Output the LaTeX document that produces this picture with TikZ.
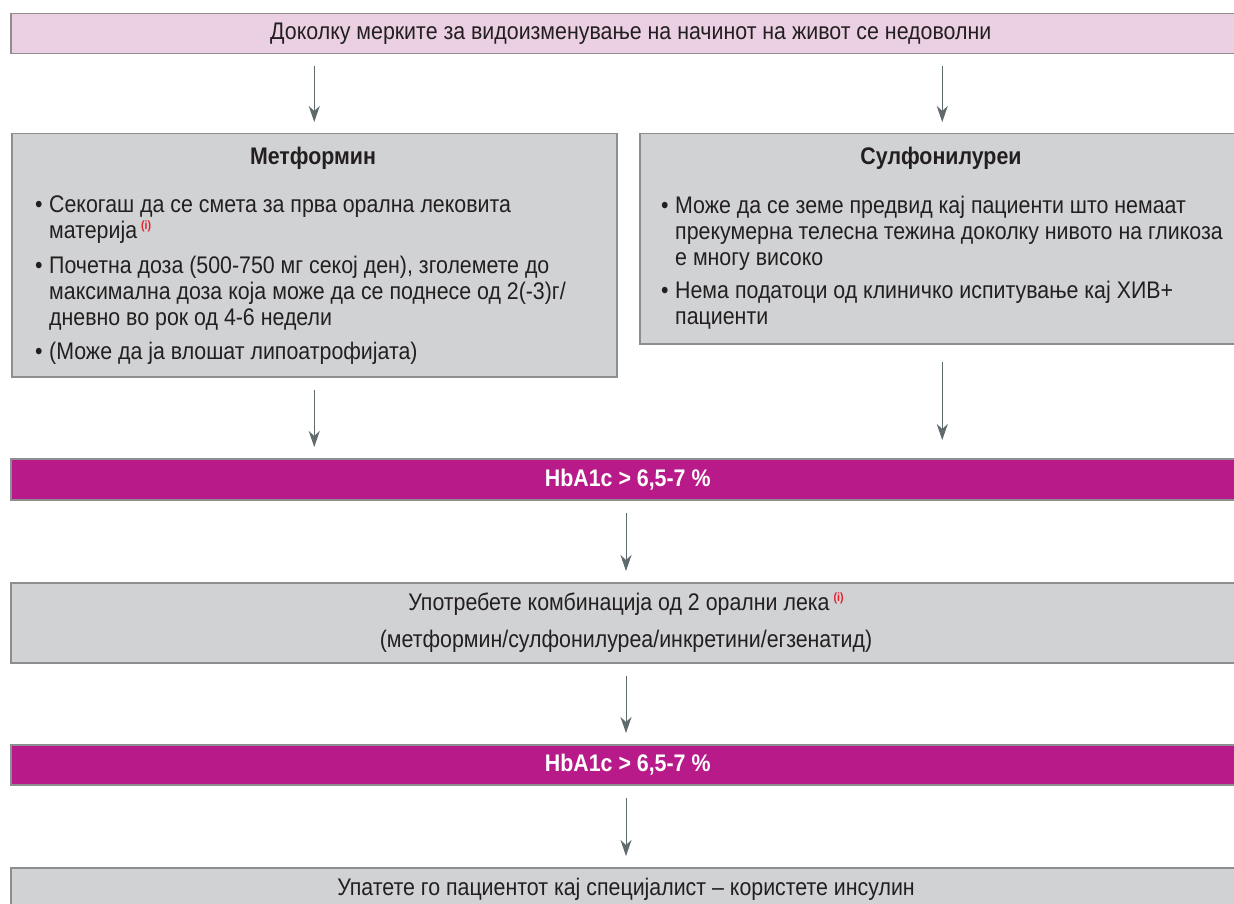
\documentclass[tikz,border=0pt]{standalone}
\usepackage{fontspec}
\setmainfont{Liberation Sans}[FakeStretch=0.89]
\usetikzlibrary{arrows.meta}

\definecolor{pinkfill}{HTML}{EBD0E4}
\definecolor{grayfill}{HTML}{D1D2D4}
\definecolor{boxline}{HTML}{8C8E90}
\definecolor{magbar}{HTML}{B81B89}
\definecolor{arrowc}{HTML}{5F6A6C}
\definecolor{supred}{HTML}{E3202B}
\definecolor{inkc}{HTML}{231F20}

% reference mark "(i)"
\newcommand\refmark{\,\raisebox{9pt}{\fontsize{12}{12}\selectfont\bfseries\color{supred}(i)}}
% bullet with hanging indent
\newcommand\bul{\makebox[14pt][l]{•}}
\newcommand\ind{\hspace*{14pt}}

\begin{document}
\begin{tikzpicture}[x=1pt,y=-1pt,
  panel/.style={draw=boxline, line width=1.5pt, inner sep=0pt, anchor=north west,
                font=\fontsize{24}{26}\selectfont, text=inkc},
  pinkpanel/.style={panel, fill=pinkfill},
  graypanel/.style={panel, fill=grayfill},
  hbpanel/.style={panel, fill=magbar, text=white, font=\fontsize{24}{26}\selectfont\bfseries},
  titletext/.style={font=\fontsize{24}{26}\selectfont\bfseries, text=inkc, inner sep=0pt},
  plaintext/.style={font=\fontsize{24}{26}\selectfont, text=inkc, inner sep=0pt},
  listtext/.style={font=\fontsize{24}{26}\selectfont, text=inkc, align=left, inner sep=0pt, anchor=north west},
  flowarrow/.style={draw=arrowc, line width=1pt, shorten <=12pt, shorten >=11pt,
                    -{Stealth[length=16pt, width=11pt, inset=5pt]}}
]
\clip (0,0) rectangle (1234,904);
\fill[white] (0,0) rectangle (1234,904);

% top condition
\node[pinkpanel, minimum width=1234pt, minimum height=40pt] (top) at (10,13)
  {\hspace*{6pt}Доколку мерките за видоизменување на начинот на живот се недоволни};

% first-line drugs
\node[graypanel, minimum width=605pt, minimum height=243pt] (met) at (11,133) {};
\node[titletext] (mettitle) at (313,158) {Метформин};
\node[listtext] (metlist) at (35,196) {%
  \bul Секогаш да се смета за прва орална лековита\\
  \ind материја\refmark\\[9pt]
  \bul Почетна доза (500-750 мг секој ден), зголемете до\\
  \ind максимална доза која може да се поднесе од 2(-3)г/\\
  \ind дневно во рок од 4-6 недели\\[8pt]
  \bul (Може да ја влошат липоатрофијата)};

\node[graypanel, minimum width=605pt, minimum height=210pt] (sul) at (639,133) {};
\node[titletext] (sultitle) at (941,158) {Сулфонилуреи};
\node[listtext] (sullist) at (661,196) {%
  \bul Може да се земе предвид кај пациенти што немаат\\
  \ind прекумерна телесна тежина доколку нивото на гликоза\\
  \ind е многу високо\\[7pt]
  \bul Нема податоци од клиничко испитување кај ХИВ+\\
  \ind пациенти};

% first HbA1c check
\node[hbpanel, minimum width=1234pt, minimum height=41pt] (hb1) at (10,458) {HbA1c > 6,5-7 \%};

% combination therapy
\node[graypanel, minimum width=1234pt, minimum height=80pt] (comb) at (10,582) {};
\node[plaintext] (comb1) at (626,604) {Употребете комбинација од 2 орални лека\refmark};
\node[plaintext] (comb2) at (626,641) {(метформин/сулфонилуреа/инкретини/егзенатид)};

% second HbA1c check
\node[hbpanel, minimum width=1234pt, minimum height=40pt] (hb2) at (10,744) {HbA1c > 6,5-7 \%};

% referral
\node[graypanel, minimum width=1234pt, minimum height=60pt] (ref) at (10,867) {};
\node[plaintext] (reftext) at (626,889) {Упатете го пациентот кај специјалист – користете инсулин};

% connectors
\draw[flowarrow] (top.south -| met.north) -- (met.north);
\draw[flowarrow] (top.south -| sul.north) -- (sul.north);
\draw[flowarrow] (met.south) -- (hb1.north -| met.south);
\draw[flowarrow, shorten <=17pt, shorten >=18pt] (sul.south) -- (hb1.north -| sul.south);
\draw[flowarrow] (hb1.south -| comb1.south) -- (comb.north -| comb1.south);
\draw[flowarrow] (comb.south -| comb1.south) -- (hb2.north -| comb1.south);
\draw[flowarrow] (hb2.south -| comb1.south) -- (ref.north -| comb1.south);
\end{tikzpicture}
\end{document}
